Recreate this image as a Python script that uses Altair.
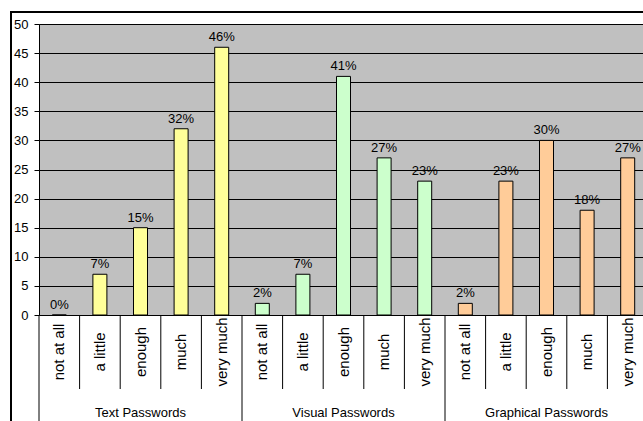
import altair as alt
import pandas as pd

groups = ["Text Passwords", "Visual Passwords", "Graphical Passwords"]
levels = ["not at all", "a little", "enough", "much", "very much"]
text_pw = [0, 7, 15, 32, 46]
visual_pw = [2, 7, 41, 27, 23]
graphical_pw = [2, 23, 30, 18, 27]
colors = ["#FFFF99", "#CCFFCC", "#FFCC99"]
y_ticks = list(range(0, 55, 5))

rows = []
for g, vals in zip(groups, [text_pw, visual_pw, graphical_pw]):
    for lvl, v in zip(levels, vals):
        i = len(rows)
        rows.append({"group": g, "level": lvl, "value": v, "label": f"{v}%",
                     "pos": i + 0.5, "edge": i, "long": int(i % 5 == 0)})
df = pd.DataFrame(rows)
grp = df.groupby("group", sort=False)["pos"].mean().reset_index()

W, H = 604, 291
STEP = 40.6
xscale = alt.Scale(domain=[0, W / STEP], nice=False, zero=False, padding=0)
yscale = alt.Scale(domain=[0, 50], nice=False, padding=0)
X = alt.X("pos:Q", scale=xscale, axis=None)
XE = alt.X("edge:Q", scale=xscale, axis=None)
yaxis = alt.Axis(
    values=y_ticks, title=None, grid=True, gridColor="black", gridWidth=1,
    domainColor="black", tickColor="black", tickSize=5, labelPadding=6,
    labelFontSize=13, labelColor="black", labelFont="Liberation Sans")
Y = alt.Y("value:Q", scale=yscale, stack=None, axis=yaxis)

base = alt.Chart(df)

bars = base.mark_bar(size=14, stroke="black", strokeWidth=1).encode(
    x=X, y=Y,
    color=alt.Color("group:N", scale=alt.Scale(domain=groups, range=colors), legend=None),
)

vlabels = base.mark_text(baseline="bottom", dy=-3, fontSize=13,
                         font="Liberation Sans", color="black").encode(
    x=X, y=Y, text="label:N")

short_sep = base.transform_filter("datum.long == 0").mark_rule(color="black", strokeWidth=1).encode(
    x=XE, y=alt.value(H), y2=alt.value(H + 74))
long_sep = base.transform_filter("datum.long == 1").mark_rule(color="black", strokeWidth=1).encode(
    x=XE, y=alt.value(H), y2=alt.value(H + 130))

cat_labels = base.mark_text(angle=270, align="center", baseline="middle",
                            font="Liberation Sans", fontSize=15, color="black").encode(
    x=X, y=alt.value(H + 37), text="level:N")

grp_labels = alt.Chart(grp).mark_text(baseline="alphabetic", font="Liberation Sans",
                                      fontSize=13, color="black").encode(
    x=alt.X("pos:Q", scale=xscale, axis=None), y=alt.value(H + 102), text="group:N")

one = alt.Chart(pd.DataFrame({"a": [0]}))
border_top = one.mark_rule(color="black", strokeWidth=2).encode(
    x=alt.value(-28), x2=alt.value(W + 20), y=alt.value(-12))
border_left = one.mark_rule(color="black", strokeWidth=2).encode(
    x=alt.value(-28), y=alt.value(-13), y2=alt.value(H + 140))

chart = alt.layer(bars, vlabels, short_sep, long_sep, cat_labels, grp_labels,
                  border_top, border_left).properties(
    width=W, height=H,
    autosize=alt.AutoSizeParams(type="none"),
    padding={"left": 39, "top": 24, "right": 0, "bottom": 106},
    background="white",
).configure_view(fill="#C0C0C0", stroke="#808080", strokeWidth=1)

chart.save("out.html", embed_options={"renderer": "svg", "actions": False})
